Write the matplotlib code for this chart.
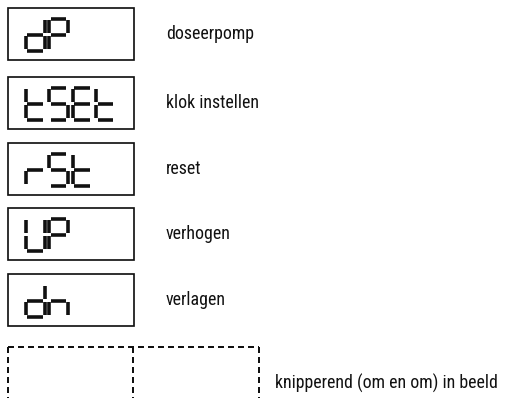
import matplotlib
matplotlib.use("Agg")
import matplotlib.pyplot as plt
from matplotlib import font_manager

beschikbaar = {f.name for f in font_manager.fontManager.ttflist}
for naam in ['Liberation Sans Narrow', 'Roboto Condensed', 'Open Sans Condensed', 'Noto Sans', 'DejaVu Sans']:
    if naam in beschikbaar:
        plt.rcParams['font.family'] = [naam, 'DejaVu Sans']
        break

codes = ["dP", "tSEt", "rSt", "UP", "dn"]
labels = ["doseerpomp", "klok instellen", "reset", "verhogen", "verlagen"]
blink_label = "knipperend (om en om) in beeld"

# welke segmenten aan staan per teken
segmenten = {
    "d": "bcdeg",
    "P": "abefg",
    "t": "defg",
    "S": "acdfg",
    "E": "adefg",
    "r": "eg",
    "U": "bcdef",
    "n": "ceg",
}

W, H = 507, 398
fig = plt.figure(figsize=(W / 100, H / 100), dpi=100)
ax = fig.add_axes([0, 0, 1, 1])
ax.set_xlim(0, W)
ax.set_ylim(H, 0)
ax.axis("off")

px = 72 / 100  # 1 pixel in punten
kleur = "#111111"

# lettergrootte zo kiezen dat 'doseerpomp' ongeveer 88 px breed is
r = fig.canvas.get_renderer()
t = fig.text(0, 0, "doseerpomp", fontsize=10)
breedte = t.get_window_extent(renderer=r).width
t.remove()
fs = 10 * 88 / breedte


def teken_cijfer(x0, y0, ch, w=19, h=32, g=1.9):
    m = h / 2
    pos = {
        "a": ((x0 + g, x0 + w - g), (y0, y0)),
        "b": ((x0 + w, x0 + w), (y0 + g, y0 + m - g)),
        "c": ((x0 + w, x0 + w), (y0 + m + g, y0 + h - g)),
        "d": ((x0 + g, x0 + w - g), (y0 + h, y0 + h)),
        "e": ((x0, x0), (y0 + m + g, y0 + h - g)),
        "f": ((x0, x0), (y0 + g, y0 + m - g)),
        "g": ((x0 + g, x0 + w - g), (y0 + m, y0 + m)),
    }
    for s in segmenten[ch]:
        xs, ys = pos[s]
        ax.plot(xs, ys, color=kleur, lw=3.6 * px, solid_capstyle="butt")


box_tops = [8, 77, 143, 208, 274]
box_h = 52
for y, code, lab in zip(box_tops, codes, labels):
    ax.add_patch(plt.Rectangle((8, y), 126, box_h, fill=False,
                               edgecolor=kleur, lw=1.7 * px))
    for j, ch in enumerate(code):
        teken_cijfer(25.5 + j * 23.5, y + 10.5, ch)
    ax.text(166, y + box_h / 2, lab, fontsize=fs, va="center", ha="left",
            color=kleur)

# knipperend: gestippelde kaders
ys = 347
stijl = dict(color=kleur, lw=2 * px, linestyle=(0, (3, 2)))
ax.plot([8, 259], [ys, ys], **stijl)
for xv in [8, 133, 259]:
    ax.plot([xv, xv], [ys, H + 5], **stijl)
ax.text(275, 383, blink_label, fontsize=fs, va="center", ha="left",
        color=kleur)

fig.savefig("out.png", dpi=100)
